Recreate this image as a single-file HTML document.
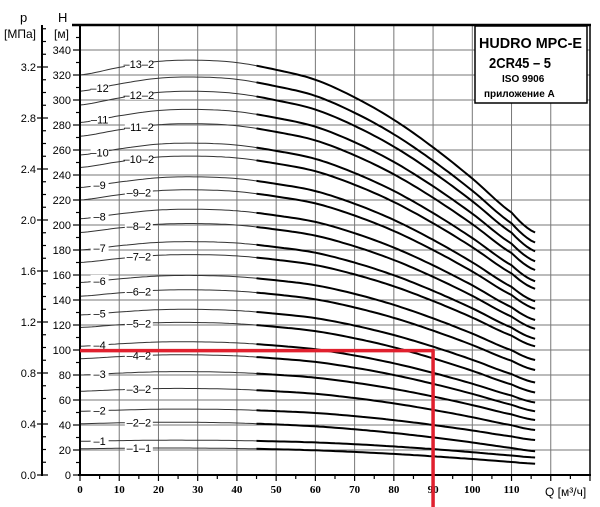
<!DOCTYPE html>
<html><head><meta charset="utf-8">
<style>
html,body{margin:0;padding:0;background:#fff;}
svg{display:block;font-family:"Liberation Sans",sans-serif;}
</style></head>
<body>
<svg id="chart" width="600" height="507" viewBox="0 0 600 507" xmlns="http://www.w3.org/2000/svg">
<g id="grid"></g>
<g id="curves"></g>
<g id="labels"></g>
<g id="axes"></g>
<g>
<rect x="475" y="26" width="112" height="77" fill="#fff" stroke="#000" stroke-width="1.5"/>
<text x="479" y="48" font-size="15" font-weight="bold" textLength="103" lengthAdjust="spacingAndGlyphs">HUDRO MPC-E</text>
<text x="489" y="68" font-size="15" font-weight="bold" textLength="62" lengthAdjust="spacingAndGlyphs">2CR45 – 5</text>
<text x="502" y="82" font-size="10" font-weight="bold">ISO 9906</text>
<text x="484" y="97" font-size="10" font-weight="bold">приложение А</text>
</g>
<g>
<text x="20" y="22" font-size="13">p</text>
<text x="4" y="38" font-size="12">[МПа]</text>
<text x="58" y="22" font-size="13">H</text>
<text x="54" y="38" font-size="12">[м]</text>
<text x="545" y="496" font-size="12">Q [м³/ч]</text>
</g>
<g id="red"></g>
</svg>
<script>
const qPts = [0,10,20,30,40,50,60,70,80,90,100,110,116];
const shape = [1,1.019,1.034,1.037,1.031,1.013,0.988,0.944,0.888,0.819,0.741,0.656,0.606];
const curveNames = ["-13-2","-12","-12-2","-11","-11-2","-10","-10-2","-9","-9-2","-8","-8-2","-7","-7-2","-6","-6-2","-5","-5-2","-4","-4-2","-3","-3-2","-2","-2-2","-1","-1-1"];
const curveHeads = [320,307,296,282,271,256,246,230,220,205,194,180,170,154,143,128,118,103,93,80,67,51,41,27,21];
const curveEnds = [194,186,179,171,164,155,149,139,133,124,117,109,103,92,84,74,66,58,51,44,36,28,19,14,9];
const xTicks = [0,10,20,30,40,50,60,70,80,90,100,110];
const hTicks = [0,20,40,60,80,100,120,140,160,180,200,220,240,260,280,300,320,340];
const pTicks = ["0.0","0.4","0.8","1.2","1.6","2.0","2.4","2.8","3.2"];
const opQ = 90, opH = 99.5;

const NS="http://www.w3.org/2000/svg";
const X=q=>80+q*3.923, Y=h=>475-h*1.25, P=p=>475-p*127.5;
function mk(t,a,parent){const e=document.createElementNS(NS,t);for(const k in a)e.setAttribute(k,a[k]);parent.appendChild(e);return e;}
const grid=document.getElementById('grid'),axes=document.getElementById('axes'),cur=document.getElementById('curves'),lab=document.getElementById('labels'),red=document.getElementById('red');
for(let q=0;q<=130;q+=10){const l=mk('line',{x1:X(q),x2:X(q),y1:25,y2:475,stroke:'#777','stroke-width':1},grid);}
for(let h=0;h<=360;h+=20){const l=mk('line',{x1:80,x2:590,y1:Y(h),y2:Y(h),stroke:'#777','stroke-width':1},grid);}
mk('line',{x1:72,x2:591,y1:25,y2:25,stroke:'#000','stroke-width':2.5},axes);
mk('line',{x1:590,x2:590,y1:25,y2:476,stroke:'#000','stroke-width':1.5},axes);
mk('line',{x1:80,x2:80,y1:25,y2:476,stroke:'#000','stroke-width':2},axes);
mk('line',{x1:78,x2:591,y1:475,y2:475,stroke:'#000','stroke-width':2},axes);
mk('line',{x1:42,x2:42,y1:25,y2:476,stroke:'#000','stroke-width':2},axes);
for(let q=0;q<=130;q+=5){mk('line',{x1:X(q),x2:X(q),y1:475,y2:q%10?479:481,stroke:'#000','stroke-width':1.2},axes);}
xTicks.forEach(q=>{const t=mk('text',{x:X(q),y:493,'font-size':11,'text-anchor':'middle','font-family':'Liberation Serif, serif','font-weight':'bold'},axes);t.textContent=q;});
for(let h=0;h<=360;h+=10){mk('line',{x1:h%20?76:73,x2:80,y1:Y(h),y2:Y(h),stroke:'#000','stroke-width':1.2},axes);}
hTicks.forEach(h=>{const t=mk('text',{x:71,y:Y(h)+4,'font-size':11,'text-anchor':'end'},axes);t.textContent=h;});
for(let i=0;i<=35;i++){const p=i/10;if(P(p)<28)break;mk('line',{x1:i%4?42:37,x2:i%4?46:48,y1:P(p),y2:P(p),stroke:'#000','stroke-width':1.2},axes);}
pTicks.forEach(s=>{const t=mk('text',{x:36,y:P(+s)+4,'font-size':11,'text-anchor':'end'},axes);t.textContent=s;});
function sh(q){
 const n=qPts.length;
 for(let i=0;i<n-1;i++){
  if(q<=qPts[i+1]){
   const t=(q-qPts[i])/(qPts[i+1]-qPts[i]);
   const p0=shape[Math.max(i-1,0)],p1=shape[i],p2=shape[i+1],p3=shape[Math.min(i+2,n-1)];
   return 0.5*((2*p1)+(-p0+p2)*t+(2*p0-5*p1+4*p2-p3)*t*t+(-p0+3*p1-3*p2+p3)*t*t*t);
  }
 }
 return shape[n-1];
}
function val(ci,q){const hd=curveHeads[ci];const adj=curveEnds[ci]-hd*shape[shape.length-1];const s=q/116;return hd*sh(q)+adj*s*s;}
curveHeads.forEach((hd,ci)=>{
 let d1='',d2='';
 for(let q=0;q<=45;q+=1){d1+=(q?'L':'M')+X(q).toFixed(1)+' '+Y(val(ci,q)).toFixed(1);}
 for(let q=45;q<=116;q+=1){d2+=(q>45?'L':'M')+X(q).toFixed(1)+' '+Y(val(ci,q)).toFixed(1);}
 const a=mk('path',{d:d1,fill:'none',stroke:'#333','stroke-width':1},cur);
 const b=mk('path',{d:d2,fill:'none',stroke:'#000','stroke-width':2},cur);
 const nm=curveNames[ci];const isMain=!nm.slice(1).includes('-');
 const qx=isMain?5:15;const w=isMain?18:28;
 const yy=Y(val(ci,qx));
 mk('rect',{x:X(qx)-w/2,y:yy-6,width:w,height:11,fill:'#fff'},lab);
 const t=mk('text',{x:X(qx),y:yy+4,'font-size':11,'text-anchor':'middle'},lab);t.textContent=nm.replace(/-/g,'–');
 
});
mk('line',{x1:80,x2:X(opQ)+1.5,y1:Y(opH),y2:Y(opH),stroke:'#e0202e','stroke-width':3.5},red);
mk('line',{x1:X(opQ),x2:X(opQ),y1:Y(opH),y2:507,stroke:'#e0202e','stroke-width':3.5},red);
</script>
</body></html>
